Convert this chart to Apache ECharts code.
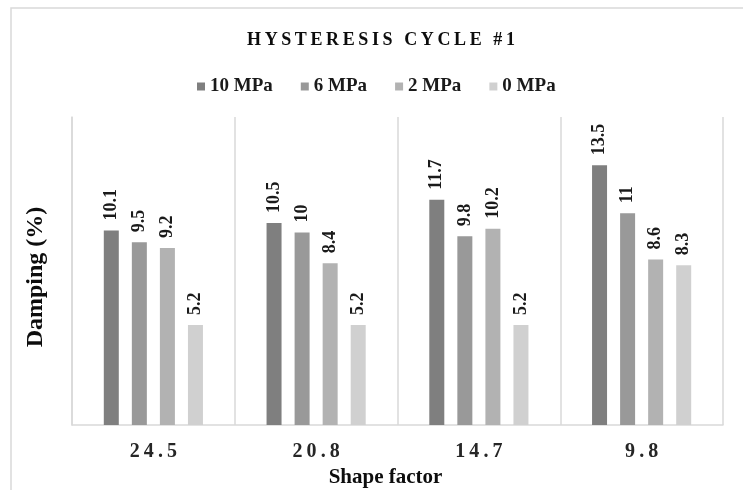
<!DOCTYPE html>
<html>
<head>
<meta charset="utf-8">
<script src="https://cdn.jsdelivr.net/npm/echarts@6/dist/echarts.min.js"></script>
<style>html,body{margin:0;padding:0;background:#fff}#c{width:743px;height:490px}</style>
</head>
<body>
<div id="c"></div>
<script>
var categories = ['24.5', '20.8', '14.7', '9.8'];
var seriesNames = ['10 MPa', '6 MPa', '2 MPa', '0 MPa'];
var s10 = [10.1, 10.5, 11.7, 13.5];
var s6 = [9.5, 10, 9.8, 11];
var s2 = [9.2, 8.4, 10.2, 8.6];
var s0 = [5.2, 5.2, 5.2, 8.3];
var titleText = 'HYSTERESIS CYCLE #1';
var xName = 'Shape factor';
var yName = 'Damping (%)';

var FONT = '"Liberation Serif", "Times New Roman", serif';
var colors = ['#7f7f7f', '#999999', '#b2b2b2', '#d0d0d0'];
function spaced(s) { return s.split('').join('\u2009'); }

var chart = echarts.init(document.getElementById('c'), null, {renderer: 'canvas'});
var values = [s10, s6, s2, s0];
var series = values.map(function (v, i) {
  return {
    name: seriesNames[i],
    type: 'bar',
    data: v,
    barWidth: 15,
    barGap: '87%',
    itemStyle: {color: colors[i]},
    label: {
      show: true,
      position: 'top',
      rotate: 90,
      align: 'left',
      verticalAlign: 'middle',
      distance: 10,
      fontFamily: FONT,
      fontWeight: 'bold',
      fontSize: 18,
      color: '#1a1a1a'
    }
  };
});

chart.setOption({
  animation: false,
  color: colors,
  graphic: [{
    type: 'rect',
    shape: {x: 11, y: 8, width: 800, height: 600},
    style: {fill: 'none', stroke: '#d9d9d9', lineWidth: 1.5},
    silent: true
  }],
  title: {
    text: spaced(titleText),
    left: 376,
    top: 26,
    textAlign: 'center',
    textStyle: {fontFamily: FONT, fontWeight: 'bold', fontSize: 18, color: '#0d0d0d'}
  },
  legend: {
    data: seriesNames,
    left: 192,
    top: 72,
    itemWidth: 8,
    itemHeight: 8,
    itemGap: 28,
    icon: 'rect',
    textStyle: {fontFamily: FONT, fontWeight: 'bold', fontSize: 19, color: '#1a1a1a'}
  },
  grid: {left: 72, right: 20, top: 117, bottom: 65, containLabel: false, outerBoundsMode: 'none'},
  xAxis: {
    type: 'category',
    data: categories,
    name: xName,
    nameLocation: 'middle',
    nameGap: 41,
    nameTextStyle: {fontFamily: FONT, fontWeight: 'bold', fontSize: 21, color: '#0d0d0d', padding: [0, 24, 0, 0]},
    axisLine: {show: true, lineStyle: {color: '#d9d9d9', width: 1.5}},
    axisTick: {show: false},
    splitLine: {show: true, interval: 0, lineStyle: {color: '#d9d9d9', width: 1.5}},
    axisLabel: {
      margin: 17,
      fontFamily: FONT, fontWeight: 'bold', fontSize: 20, color: '#262626',
      formatter: function (v) { return spaced(v); }
    }
  },
  yAxis: {
    type: 'value',
    min: 0,
    max: 16,
    interval: 2,
    name: yName,
    nameLocation: 'middle',
    nameGap: 24,
    nameTextStyle: {fontFamily: FONT, fontWeight: 'bold', fontSize: 24, color: '#0d0d0d', padding: [0, 12, 0, 0]},
    axisLine: {show: true, lineStyle: {color: '#d9d9d9', width: 1.5}},
    axisTick: {show: false},
    axisLabel: {show: false},
    splitLine: {show: false}
  },
  series: series
});
</script>
</body>
</html>
